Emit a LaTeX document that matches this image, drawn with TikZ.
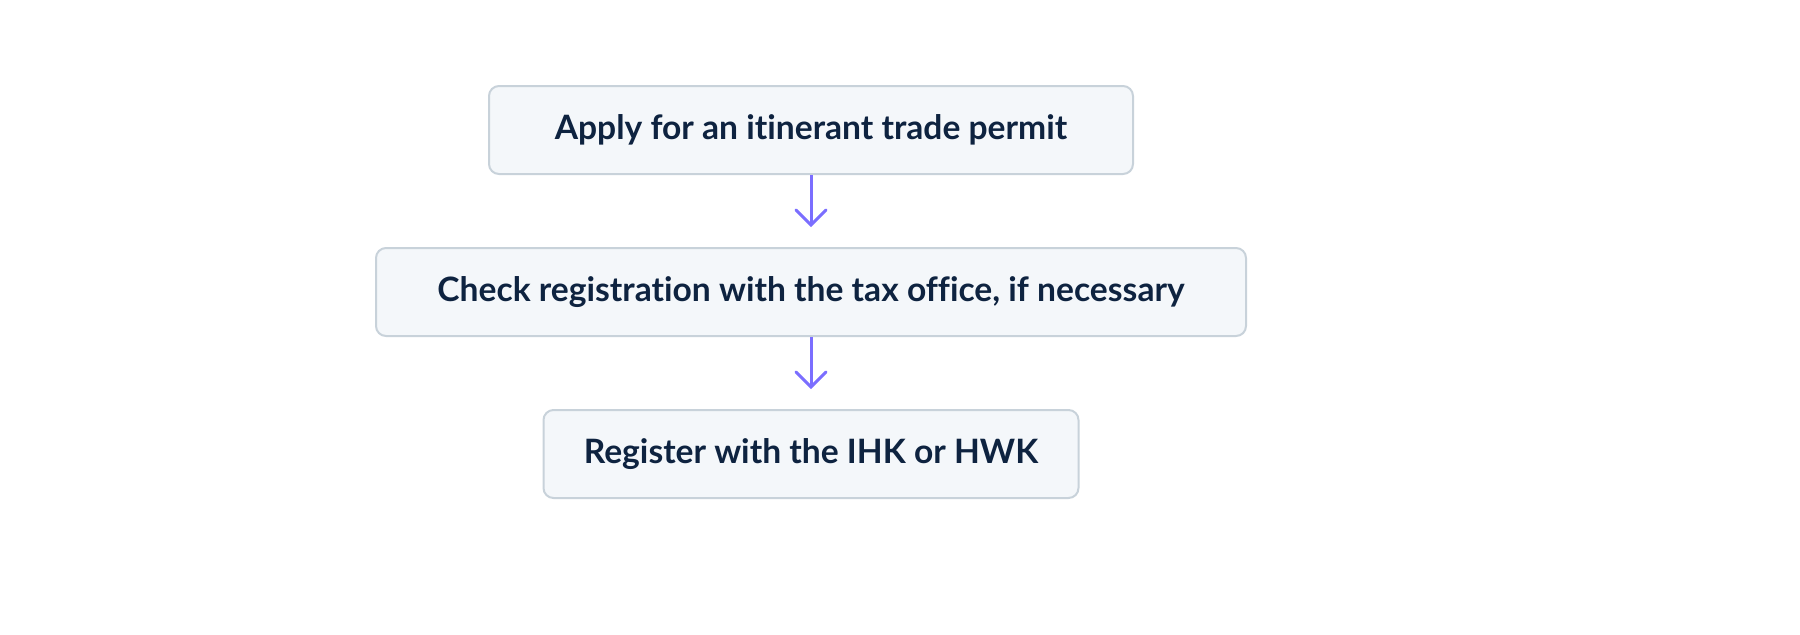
\documentclass[tikz,border=0pt]{standalone}
\usepackage{fontspec}
\setmainfont{Lato}[Ligatures=NoCommon]
\usepackage{xcolor}
\usetikzlibrary{positioning,arrows.meta}

\definecolor{boxfill}{HTML}{F4F7FA}
\definecolor{boxline}{HTML}{C8D2DA}
\definecolor{boxtext}{HTML}{0E2340}
\definecolor{flowline}{HTML}{7B6EFF}

\begin{document}
\begin{tikzpicture}[%Permit steps
  node distance=36pt,
  stepnode/.style={rectangle, rounded corners=5pt, draw=boxline, line width=1pt,
    fill=boxfill, text=boxtext, font=\fontsize{16.8pt}{20pt}\selectfont\bfseries,
    minimum height=44pt, inner xsep=0pt}
]
\useasboundingbox (0,0) rectangle (900pt,-317pt);

%Nodes
\node[stepnode, minimum width=322pt] (apply) at (405.5pt,-65pt) {Apply for an itinerant trade permit};
\node[stepnode, minimum width=435pt, below=of apply] (check) {Check registration with the tax office, if necessary};
\node[stepnode, minimum width=267.5pt, below=of check] (register) {Register with the IHK or HWK};

%Arrows
\draw[flowline, line width=1.5pt, shorten >=10pt,
  -{Straight Barb[length=7.5pt, width=15pt, line cap=round]}] (apply) -- (check);
\draw[flowline, line width=1.5pt, shorten >=10pt,
  -{Straight Barb[length=7.5pt, width=15pt, line cap=round]}] (check) -- (register);
\end{tikzpicture}
\end{document}
